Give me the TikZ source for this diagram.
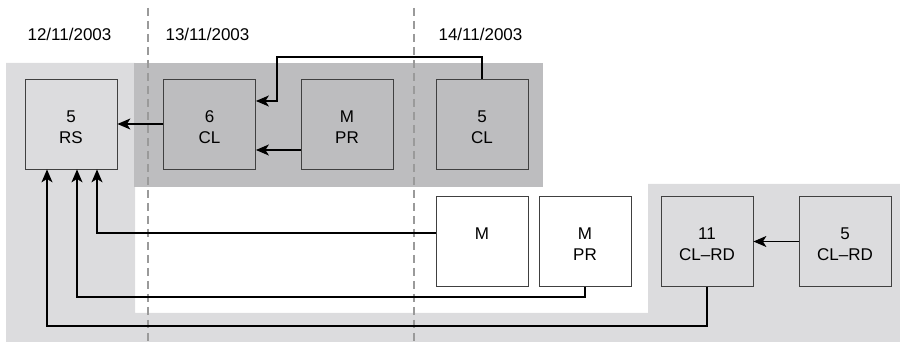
\documentclass[tikz,border=0pt]{standalone}
\usepackage{fontspec}
\setmainfont{Liberation Sans}
\usetikzlibrary{arrows.meta}
\definecolor{lightbg}{HTML}{DCDCDE}
\definecolor{darkbg}{HTML}{BDBDBF}
\definecolor{dashgrey}{HTML}{9A9A9A}
\newcommand{\toprule}{\rule{0pt}{17.2pt}}
\tikzset{
  box/.style={draw=black!75, line width=0.8pt, minimum width=92pt, minimum height=90pt,
    inner sep=0pt, align=center, font=\fontsize{17}{21}\selectfont},
  conn/.style={line width=1.2pt, -{Stealth[length=13pt,width=11pt,inset=3.5pt]}},
  datelbl/.style={font=\fontsize{17}{20}\selectfont, inner sep=0pt},
  vdash/.style={dashgrey, line width=1.3pt, dash pattern=on 8pt off 5pt}
}
\begin{document}
\begin{tikzpicture}[x=1pt,y=-1pt]
\useasboundingbox (0,0) rectangle (900,344);
% backgrounds
\fill[lightbg] (6,63) -- (135,63) -- (135,313) -- (648,313) -- (648,184) -- (900,184) -- (900,342) -- (6,342) -- cycle;
\fill[darkbg] (134,63) rectangle (543,187);
% dashed day separators
\draw[vdash] (148,8) -- (148,344);
\draw[vdash] (414,8) -- (414,344);
% date labels
\node[datelbl] (d1) at (69.5,34.5) {12/11/2003};
\node[datelbl] (d2) at (207.5,34.5) {13/11/2003};
\node[datelbl] (d3) at (480.5,34.5) {14/11/2003};
% boxes
\node[box, fill=lightbg] (RS) at (71,124) {\toprule 5\\RS};
\node[box, fill=darkbg] (CL6) at (209.5,124) {\toprule 6\\CL};
\node[box, fill=darkbg] (MPR1) at (347,124) {\toprule M\\PR};
\node[box, fill=darkbg] (CL5) at (482,124) {\toprule 5\\CL};
\node[box, fill=white] (M) at (482,241.5) {\toprule M\\\phantom{PR}};
\node[box, fill=white] (MPR2) at (585,241.5) {\toprule M\\PR};
\node[box, fill=lightbg] (RD11) at (707,241.5) {\toprule 11\\CL--RD};
\node[box, fill=lightbg] (RD5) at (845,241.5) {\toprule 5\\CL--RD};
% helper coordinates
\coordinate (y57) at (0,57);
\coordinate (y101) at (0,101);
\coordinate (y150) at (0,150);
\coordinate (y233) at (0,233);
\coordinate (y297) at (0,297);
\coordinate (y326) at (0,326);
\coordinate (k1) at (277,57);
\coordinate (k2) at (277,101);
\coordinate (x97) at (97,0);
\coordinate (x77) at (77,0);
\coordinate (x47) at (47,0);
% connectors
\draw[conn] (CL6.west) -- (RS.east);
\draw[conn] (CL5.north) -- (CL5.north |- y57) -- (k1) -- (k2) -- (CL6.east |- y101);
\draw[conn] (MPR1.west |- y150) -- (CL6.east |- y150);
\draw[conn] (M.west |- y233) -- (x97 |- y233) -- (x97 |- RS.south);
\draw[conn] (MPR2.south) -- (MPR2.south |- y297) -- (x77 |- y297) -- (x77 |- RS.south);
\draw[conn] (RD11.south) -- (RD11.south |- y326) -- (x47 |- y326) -- (x47 |- RS.south);
\draw[conn] (RD5.west) -- (RD11.east);
\end{tikzpicture}
\end{document}
